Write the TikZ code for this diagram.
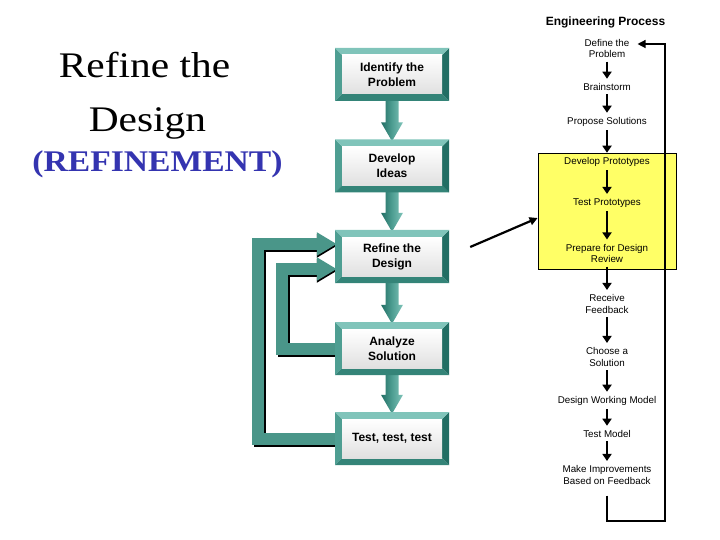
\documentclass[tikz,border=0pt]{standalone}
\usepackage{fontspec}
\setmainfont{Liberation Sans}
\newfontfamily\timesfont{Liberation Serif}
\usetikzlibrary{arrows.meta,calc}
\definecolor{tealL}{RGB}{128,196,186}
\definecolor{tealM}{RGB}{78,158,146}
\definecolor{tealB}{RGB}{52,132,120}
\definecolor{tealD}{RGB}{34,110,100}
\definecolor{tealband}{RGB}{74,150,137}
\definecolor{hlyellow}{RGB}{255,255,102}
\definecolor{refblue}{RGB}{52,52,176}
\pgfdeclarelayer{background}
\pgfsetlayers{background,main}
\newcommand\tealarrow[2]{%
  \shade[left color=tealD, right color=tealL, middle color=tealM]
    ($(#1.south)+(-6.5,-1)$) -- ($(#2.north)+(-6.5,-17)$) -- ($(#2.north)+(-11,-17)$)
    -- ($(#2.north)+(0,2)$) -- ($(#2.north)+(11,-17)$) -- ($(#2.north)+(6.5,-17)$)
    -- ($(#1.south)+(6.5,-1)$) -- cycle;}
\begin{document}
\begin{tikzpicture}[x=1pt,y=-1pt,
  stepbox/.style={minimum width=114pt, minimum height=53pt, inner sep=0pt, align=center,
    font=\fontsize{12}{15}\selectfont\bfseries,
    path picture={
      \coordinate (ppnw) at (path picture bounding box.north west);
      \coordinate (ppne) at (path picture bounding box.north east);
      \coordinate (ppsw) at (path picture bounding box.south west);
      \coordinate (ppse) at (path picture bounding box.south east);
      \fill[tealM] (ppnw) -- ($(ppnw)+(7,7)$) -- ($(ppsw)+(7,-7)$) -- (ppsw) -- cycle;
      \fill[tealB] (ppsw) -- ($(ppsw)+(7,-7)$) -- ($(ppse)+(-7,-7)$) -- (ppse) -- cycle;
      \fill[tealD] (ppse) -- ($(ppse)+(-7,-7)$) -- ($(ppne)+(-7,7)$) -- (ppne) -- cycle;
      \fill[tealL] (ppnw) -- (ppne) -- ($(ppne)+(-7,7)$) -- ($(ppnw)+(7,7)$) -- cycle;
      \shade[top color=white, bottom color=black!12] ($(ppnw)+(7,7)$) rectangle ($(ppse)+(-7,-7)$);
    }},
  rtext/.style={font=\fontsize{9.8}{11.5}\selectfont, align=center, inner sep=2pt},
  blackarr/.style={line width=2.2pt, -{Triangle[length=7pt,width=9pt]},
    shorten <=1.5pt, shorten >=2.5pt},
  band/.style={line width=12pt, color=tealband, -{Triangle[length=20pt,width=22pt]}},
  bandshadow/.style={line width=12pt, color=black, -{Triangle[length=20pt,width=22pt]},
    transform canvas={shift={(2,2)}}}
]
\useasboundingbox (0,0) rectangle (720,540);

% left titles
\node[anchor=base, font=\timesfont\fontsize{36}{40}\selectfont] (t1) at (144.5,78) {\scalebox{1.15}[1]{Refine the}};
\node[anchor=base, font=\timesfont\fontsize{36}{40}\selectfont] (t2) at (147.5,132) {\scalebox{1.15}[1]{Design}};
\node[anchor=base, font=\timesfont\bfseries\fontsize{30}{34}\selectfont, text=refblue] (t3) at (157.5,172) {\scalebox{1.12}[1]{(REFINEMENT)}};

% step boxes
\node[stepbox] (identify) at (392,74.5) {Identify the\\Problem};
\node[stepbox] (develop) at (392,166) {Develop\\Ideas};
\node[stepbox] (refine) at (392,256.5) {Refine the\\Design};
\node[stepbox] (analyze) at (392,348.5) {Analyze\\Solution};
\node[stepbox] (test) at (392,438.5) {Test, test, test};

\begin{pgfonlayer}{background}
  \tealarrow{identify}{develop}
  \tealarrow{develop}{refine}
  \tealarrow{refine}{analyze}
  \tealarrow{analyze}{test}
  \draw[bandshadow] (test.west) -- ++(-77,0) |- ($(refine.west)+(0,-12.5)$);
  \draw[band] (test.west) -- ++(-77,0) |- ($(refine.west)+(2,-12.5)$);
  \draw[bandshadow] (analyze.west) -- ++(-52.5,0) |- ($(refine.west)+(0,12.5)$);
  \draw[band] (analyze.west) -- ++(-52.5,0) |- ($(refine.west)+(2,12.5)$);
\end{pgfonlayer}

% engineering process
\node[font=\fontsize{12}{14}\selectfont\bfseries] (title) at (605.5,22) {Engineering Process};
\node[draw=black, line width=0.8pt, fill=hlyellow, minimum width=138pt, minimum height=116pt, inner sep=0pt] (hl) at (607,211) {};

\node[rtext] (def) at (607,48.5) {Define the\\Problem};
\node[rtext] (brain) at (607,87) {Brainstorm};
\node[rtext] (prop) at (607,122) {Propose Solutions};
\node[rtext] (devp) at (607,162) {Develop Prototypes};
\node[rtext] (testp) at (607,203) {Test Prototypes};
\node[rtext] (prep) at (607,253.5) {Prepare for Design\\Review};
\node[rtext] (recv) at (607,304) {Receive\\Feedback};
\node[rtext] (choose) at (607,357) {Choose a\\Solution};
\node[rtext] (dwm) at (607,401) {Design Working Model};
\node[rtext] (testm) at (607,434) {Test Model};
\node[rtext] (make) at (607,475) {Make Improvements\\Based on Feedback};

\foreach \a/\b in {def/brain, brain/prop, prop/devp, devp/testp, testp/prep,
  prep/recv, recv/choose, choose/dwm, dwm/testm, testm/make}
  \draw[blackarr] (\a.south) -- (\b.north);

\coordinate (loopbr) at (665,521);
\draw[line width=1.3pt, -{Triangle[length=8pt,width=8pt]}]
  ($(make.south)+(0,9)$) |- (loopbr) |- ($(def.east)+(6,-4.5)$);

% pointer
\draw[line width=2.2pt, -{Triangle[length=8pt,width=8pt]}]
  ($(refine.east)+(21,-9.5)$) -- ($(hl.west)+(0,7)$);
\end{tikzpicture}
\end{document}
